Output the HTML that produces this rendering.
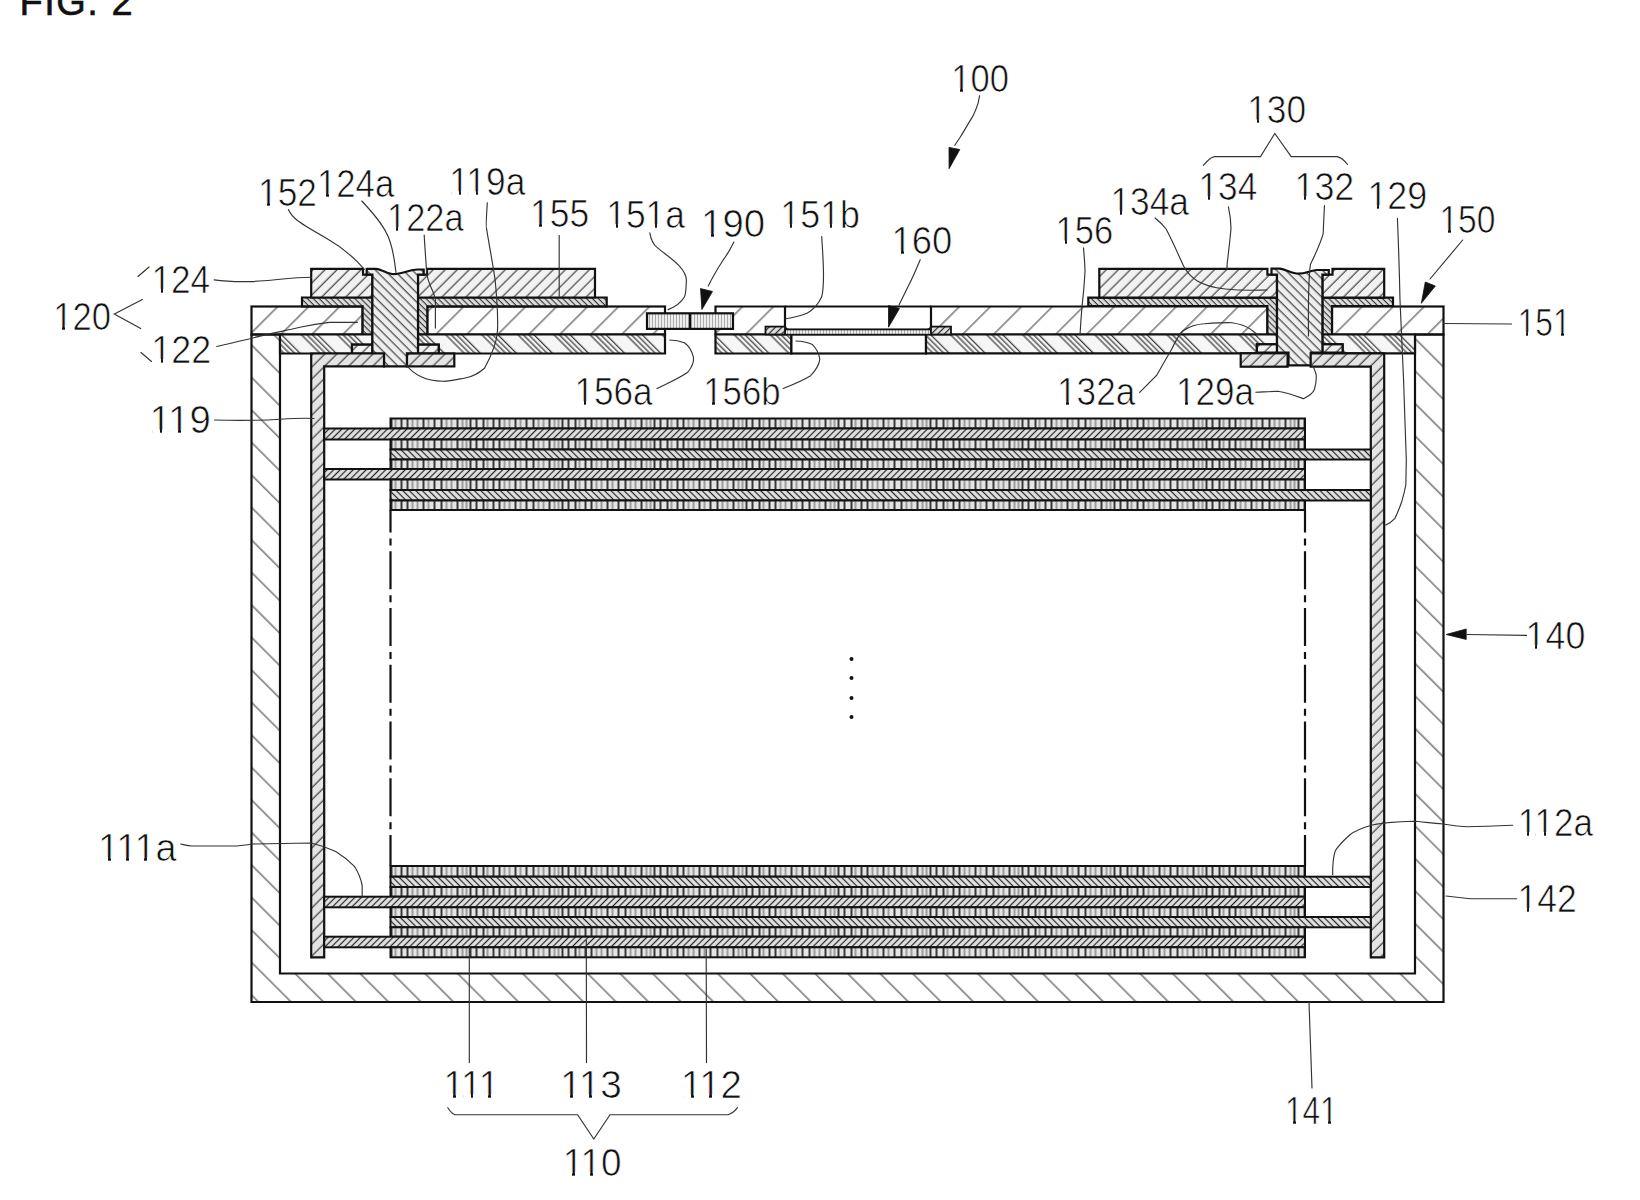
<!DOCTYPE html>
<html><head><meta charset="utf-8">
<style>
html,body{margin:0;padding:0;background:#fff;width:1640px;height:1200px;overflow:hidden}
svg{position:absolute;left:0;top:0}
text{font-family:"Liberation Sans",sans-serif;font-size:38px;fill:#111;stroke:#fff;stroke-width:0.7px}
</style></head><body>
<svg width="1640" height="1200" viewBox="0 0 1640 1200">
<defs>
<pattern id="pCase" patternUnits="userSpaceOnUse" width="22.98" height="22.98" patternTransform="rotate(-45)"><line x1="2.9" y1="0" x2="2.9" y2="22.98" stroke="#444" stroke-width="1.1"/></pattern>
<pattern id="pCap" patternUnits="userSpaceOnUse" width="21.91" height="21.91" patternTransform="rotate(45)"><line x1="18.8" y1="0" x2="18.8" y2="21.91" stroke="#444" stroke-width="1.1"/></pattern>
<pattern id="pTerm" patternUnits="userSpaceOnUse" width="8.5" height="8.5" patternTransform="rotate(45)"><rect width="8.5" height="8.5" fill="#f2f2f2"/><line x1="4" y1="0" x2="4" y2="8.5" stroke="#333" stroke-width="1.1"/></pattern>
<pattern id="pRivet" patternUnits="userSpaceOnUse" width="6.5" height="6.5" patternTransform="rotate(-45)"><rect width="6.5" height="6.5" fill="#eee"/><line x1="3" y1="0" x2="3" y2="6.5" stroke="#333" stroke-width="1.1"/></pattern>
<pattern id="pGask" patternUnits="userSpaceOnUse" width="4.2" height="4.2" patternTransform="rotate(-45)"><rect width="4.2" height="4.2" fill="#ddd"/><line x1="2" y1="0" x2="2" y2="4.2" stroke="#333" stroke-width="1.1"/></pattern>
<pattern id="pIns" patternUnits="userSpaceOnUse" width="25.5" height="25.5" patternTransform="rotate(-45)"><rect width="25.5" height="25.5" fill="#f6f6f6"/><g stroke="#222" stroke-width="1.1"><line x1="2" y1="0" x2="2" y2="25.5"/><line x1="5.8" y1="0" x2="5.8" y2="25.5"/><line x1="9.6" y1="0" x2="9.6" y2="25.5"/><line x1="13.4" y1="0" x2="13.4" y2="25.5"/></g></pattern>
<pattern id="pLead" patternUnits="userSpaceOnUse" width="8.5" height="8.5" patternTransform="rotate(45)"><rect width="8.5" height="8.5" fill="#e4e4e4"/><line x1="4" y1="0" x2="4" y2="8.5" stroke="#333" stroke-width="1.1"/></pattern>
<pattern id="pTab" patternUnits="userSpaceOnUse" width="4.6" height="4.6" patternTransform="rotate(45)"><rect width="4.6" height="4.6" fill="#e2e2e2"/><line x1="2.3" y1="0" x2="2.3" y2="4.6" stroke="#222" stroke-width="1.2"/></pattern>
<pattern id="pTabB" patternUnits="userSpaceOnUse" width="4.6" height="4.6" patternTransform="rotate(-45)"><rect width="4.6" height="4.6" fill="#e2e2e2"/><line x1="2.3" y1="0" x2="2.3" y2="4.6" stroke="#222" stroke-width="1.2"/></pattern>
<pattern id="pVert" patternUnits="userSpaceOnUse" width="92" height="10" x="390.5">
<rect width="92" height="10" fill="#e4e4e4"/>
<g stroke="#1a1a1a" stroke-width="1.7"><line x1="1" y1="0" x2="1" y2="10"/><line x1="11" y1="0" x2="11" y2="10"/><line x1="17" y1="0" x2="17" y2="10"/><line x1="33" y1="0" x2="33" y2="10"/><line x1="44" y1="0" x2="44" y2="10"/><line x1="51" y1="0" x2="51" y2="10"/><line x1="67" y1="0" x2="67" y2="10"/><line x1="80" y1="0" x2="80" y2="10"/><line x1="86" y1="0" x2="86" y2="10"/></g>
<g stroke="#555" stroke-width="1"><line x1="5" y1="0" x2="5" y2="10"/><line x1="22" y1="0" x2="22" y2="10"/><line x1="27" y1="0" x2="27" y2="10"/><line x1="38" y1="0" x2="38" y2="10"/><line x1="56" y1="0" x2="56" y2="10"/><line x1="61" y1="0" x2="61" y2="10"/><line x1="72" y1="0" x2="72" y2="10"/><line x1="76" y1="0" x2="76" y2="10"/></g>
</pattern>
<pattern id="pSc" patternUnits="userSpaceOnUse" width="3" height="3"><rect width="3" height="3" fill="#eee"/><line x1="1.5" y1="0" x2="1.5" y2="3" stroke="#999" stroke-width="0.8"/></pattern>
</defs>

<!-- FIG title -->
<text x="19.5" y="15.4" style="letter-spacing:1.5px;stroke:#111;stroke-width:0.6px">FIG. 2</text>

<g id="drawing" stroke="#111" stroke-width="2.2">
<!-- case 140 -->
<path d="M251.5,334.5 L251.5,1002 L1443.5,1002 L1443.5,334.5 L1415,334.5 L1415,973.5 L280,973.5 L280,334.5 Z" fill="url(#pCase)"/>
<!-- cap plate 151 pieces -->
<rect x="251.5" y="306.5" width="111.1" height="28" fill="url(#pCap)"/>
<rect x="427.3" y="306.5" width="237.7" height="28" fill="url(#pCap)"/>
<path d="M715.5,306.5 H785 V326 Q785,329.6 789,329.6 H927 Q931,329.6 931,326 V306.5 H1267.5 V334.5 H715.5 Z" fill="url(#pCap)"/>
<rect x="1332" y="306.5" width="111.5" height="28" fill="url(#pCap)"/>
<!-- gaskets 152 -->
<path d="M302,297.5 H372.4 V334.5 H362.6 V306.3 H302 Z" fill="url(#pGask)"/>
<path d="M418,297.5 H606.7 V306.3 H427.3 V334.5 H418 Z" fill="url(#pGask)"/>
<path d="M1088.3,297.7 H1277 V334.5 H1267.4 V306 H1088.3 Z" fill="url(#pGask)"/>
<path d="M1322.4,297.7 H1393 V306 H1332 V334.5 H1322.4 Z" fill="url(#pGask)"/>
<!-- terminal plates -->
<path d="M311.2,268.8 H363 V274.7 H372.4 V297.5 H311.2 Z" fill="url(#pTerm)"/>
<path d="M427,268.8 H595 V297.5 H418 V274.7 H427 Z" fill="url(#pTerm)"/>
<path d="M1099.3,268.8 H1267.4 V274.7 H1277 V297.7 H1099.3 Z" fill="url(#pTerm)"/>
<path d="M1332.5,268.8 H1384.2 V297.7 H1322.4 V274.7 H1332.5 Z" fill="url(#pTerm)"/>
<!-- insulators 156 -->
<path d="M280,334.5 H372.4 V344.7 H352 V353.5 H280 Z" fill="url(#pIns)"/>
<path d="M418,334.5 H665 V353.5 H438.7 V344.7 H418 Z" fill="url(#pIns)"/>
<path d="M715.5,334.5 H791.4 V353.5 H715.5 Z" fill="url(#pIns)"/>
<rect x="791.4" y="334.5" width="134.6" height="19" fill="#fff"/>
<path d="M926,334.5 H1277 V344.3 H1256.9 V353.3 H926 Z" fill="url(#pIns)"/>
<path d="M1322.4,334.5 H1415 V353.3 H1342.6 V344.3 H1322.4 Z" fill="url(#pIns)"/>
<!-- washers -->
<rect x="352" y="344.7" width="20.4" height="8.8" fill="url(#pTerm)"/>
<rect x="418" y="344.7" width="20.7" height="8.8" fill="url(#pTerm)"/>
<rect x="1256.9" y="344.3" width="20.1" height="8.3" fill="url(#pTerm)"/>
<rect x="1322.4" y="344.3" width="20.2" height="8.3" fill="url(#pTerm)"/>
<!-- rivets -->
<path d="M366.7,268.8 H376 C382,269.5 388,274.2 393.7,274.2 C402,274.2 410,269.5 417.5,269.5 H423.7 V274.7 H418 V353.5 H407 V366.4 H384 V353.5 H372.4 V274.7 H366.7 Z" fill="url(#pRivet)"/>
<path d="M1271.5,268.7 H1280 C1286,269.5 1292,273.7 1298.6,273.7 C1306,273.7 1311,270 1317,270 H1328.8 V274.7 H1322.4 V352.6 H1311 V365.4 H1288.5 V352.6 H1277 V274.7 H1271.5 Z" fill="url(#pRivet)"/>
<!-- lower flanges + lead tabs -->
<path d="M311.2,353.5 H384 V366.4 H324.2 V957.3 H311.2 Z" fill="url(#pLead)"/>
<rect x="407" y="353.5" width="47.3" height="12.9" fill="url(#pLead)"/>
<rect x="1240.7" y="353.3" width="46.9" height="13.4" fill="url(#pLead)"/>
<path d="M1310.7,353.3 H1384.2 V957.3 H1370.8 V366.7 H1310.7 Z" fill="url(#pLead)"/>
<line x1="785" y1="306.5" x2="931" y2="306.5"/>
<!-- vent plate 160 -->
<rect x="785" y="329.6" width="146" height="4.9" fill="url(#pSc)" stroke-width="1.4"/>
<rect x="765.5" y="326.6" width="19.5" height="7.9" fill="url(#pTab)" stroke-width="1.8"/>
<rect x="931" y="326.6" width="20" height="7.9" fill="url(#pTab)" stroke-width="1.8"/>
<!-- short circuit plate 190 -->
<rect x="647" y="313.3" width="86" height="15.6" fill="url(#pSc)"/>
<line x1="690" y1="313.3" x2="690" y2="328.9"/>
</g>
<g id="stacks" stroke="#111" stroke-width="2">
<rect x="390.5" y="418.5" width="914.5" height="10.0" fill="url(#pVert)"/>
<rect x="324.2" y="428.5" width="980.8" height="11.0" fill="url(#pTab)"/>
<rect x="390.5" y="439.5" width="914.5" height="10.0" fill="url(#pVert)"/>
<rect x="390.5" y="449.5" width="980.3" height="10.0" fill="url(#pTabB)"/>
<rect x="390.5" y="459.5" width="914.5" height="9.5" fill="url(#pVert)"/>
<rect x="324.2" y="469" width="980.8" height="10.5" fill="url(#pTab)"/>
<rect x="390.5" y="479.5" width="914.5" height="10.5" fill="url(#pVert)"/>
<rect x="390.5" y="490" width="980.3" height="10.5" fill="url(#pTabB)"/>
<rect x="390.5" y="500.5" width="914.5" height="9.5" fill="url(#pVert)"/>
<rect x="390.5" y="866" width="914.5" height="10.7" fill="url(#pVert)"/>
<rect x="390.5" y="876.7" width="980.3" height="10.3" fill="url(#pTabB)"/>
<rect x="390.5" y="887" width="914.5" height="9.7" fill="url(#pVert)"/>
<rect x="324.2" y="896.7" width="980.8" height="10.6" fill="url(#pTab)"/>
<rect x="390.5" y="907.3" width="914.5" height="9.7" fill="url(#pVert)"/>
<rect x="390.5" y="917" width="980.3" height="10.3" fill="url(#pTabB)"/>
<rect x="390.5" y="927.3" width="914.5" height="9.4" fill="url(#pVert)"/>
<rect x="324.2" y="936.7" width="980.8" height="10.6" fill="url(#pTab)"/>
<rect x="390.5" y="947.3" width="914.5" height="10.0" fill="url(#pVert)"/>
</g>
<g id="leaders" fill="none" stroke="#333" stroke-width="1.15" stroke-linecap="round">
<path d="M142.4,299.5 L114.3,314 L140.7,328.5"/>
<path d="M138,276.5 L149,267"/>
<path d="M141,352.5 L151.5,361.5"/>
<path d="M214.2,279.9 C225,281.5 240,281.8 250,281.6 C270,281 290,277.5 311.5,277.3"/>
<path d="M216.7,346.5 C230,343.5 240,341 250,338.8 C265,334 285,331 300,327.3 C310,325 318,323.5 329.4,322.4 L357.4,322.4"/>
<path d="M214.4,420 C240,420.8 260,420.5 280.3,419.3 C295,418.2 305,418 314,418.5"/>
<path d="M288.4,209.5 C292,218 298,222 326.8,238.5 C340,246 352,255 364.4,269.3"/>
<path d="M361.8,201 C375,215 384,228 386.6,233.4 C392,243 394,255 396,272.7"/>
<path d="M424.2,235.1 C425,250 426,262 426.7,272.7 C428,285 434,290 435.4,300 L435.4,328"/>
<path d="M487.3,202.7 C486.5,215 486,228 486.5,228.3 C490,250 494,270 495.3,281.7 C497,300 498,320 497.5,330.4 C497,338 496,342 494.2,346.6 C491,356 488,362 484.5,368.3 C478,374 472,377 465,378 C455,380 450,381.3 443.3,381.3 C435,381 428,380 421.7,377 C415,374 410,370 406.5,365"/>
<path d="M559.2,235.5 L559.2,296.8"/>
<path d="M649.8,232.8 C651,240 654,245 657,247.4 C665,254 674,260 679,265.7 C684,271 687,277 686.3,282.2 C686,290 686,293 684.5,296.8 C681,303 675,307 668,309.6"/>
<path d="M733.9,242 C730,250 727,255 723,260.2 C718,268 713,276 708.3,285.9"/>
<path d="M821.7,236.5 C822.5,250 823.5,262 823.5,274.9 C823.5,285 823,292 821.7,296.8 C818,305 813,310 807,313.3 C800,316 793,318 785,318.8"/>
<path d="M920.2,259.8 C916,270 912,279 907.6,287.6 L899,305"/>
<path d="M979.6,95.7 C979,99 978.5,101 978.2,102.8 C976,110 974.5,113 972.5,116.9 C968,124 964,131 960.5,136.8 L954.8,145.3"/>
<path d="M1083.5,247.9 C1084.5,260 1085,265 1085,271.7 C1084,290 1083,298 1082,306.6 C1081,318 1080.5,326 1080,335"/>
<path d="M1155.1,218 C1160,222 1163,225 1166.1,229 C1173,242 1178,254 1183.7,266.3 C1190,278 1200,286 1225,289 C1245,291 1258,290 1267,290"/>
<path d="M1228.4,206.8 C1230,214 1231,221 1231,228.5 C1230,240 1228.5,252 1227.1,264.4 L1227,269"/>
<path d="M1324.5,205.5 C1324,215 1323.5,225 1323.2,233.7 C1320,245 1315,255 1310.4,264.4 C1309,275 1308,290 1308.5,336"/>
<path d="M1203.4,165.4 C1207,161 1210,157.5 1214.4,156.6 L1260.5,156.6 L1274.8,133.5 L1291.2,156.6 L1337,156.6 C1341,157.5 1345,161 1347.5,164.5"/>
<path d="M1397.4,218.3 C1398.5,245 1399.5,275 1400,300.2 C1402,340 1404,380 1406.3,460 C1406,475 1406,480 1405.8,485 C1404.5,492 1403,497 1401.7,501.7 C1399.5,508 1397.5,513 1395,518.3 C1392,521.5 1389,523.5 1385.8,525"/>
<path d="M1462.7,240 L1430,279"/>
<path d="M1443.5,323.5 L1511.6,324"/>
<path d="M1467,634.5 L1526.6,635.4"/>
<path d="M1512.7,825.3 C1495,826 1480,826.5 1467.3,826.7 C1455,826 1450,825 1443.3,824 C1430,823 1420,821.5 1414,821.3 C1400,821.5 1395,822 1387.3,822.7 C1380,823.5 1375,824 1371.3,825.3 C1362,828 1355,831 1350,834.7 C1344,840 1339,845 1335.3,850.7 C1333,858 1332.5,866 1332.7,874.7"/>
<path d="M1516.7,898.7 L1470,898.7 L1446,896"/>
<path d="M180.7,844 C185,845 188,846 192,846 L233.7,846 C240,846 246,845 252.6,844 L311.2,843 C320,845 328,848 335.7,851.6 C343,856 349,861 354.7,866.7 C358,872 361,879 362.2,885.6 L362.2,897"/>
<path d="M657,388.5 C668,383 680,378 688,372 C692,367 694,362 693.5,357.4 C692,351 689,346 684.4,342.8 C680,341 675,340 669.8,340"/>
<path d="M783.2,388.5 C792,385 802,381 810.6,375.7 C815,371 819,365 819.8,359.3 C819,353 816,348 812.4,344.6 C807,342 801,341 796,341"/>
<path d="M1139.7,392.3 C1146,386 1152,380 1157,374.9 C1162,366 1167,357 1171.7,349.3 C1175,342 1178,336 1182.7,331 C1190,326 1197,324 1204.6,323.7 C1215,323 1225,322.5 1232,322.7 C1240,324 1246,326 1250.4,329.1 C1253,331 1255,333 1257.7,334.6"/>
<path d="M1255.9,392.3 C1263,392 1270,391.5 1277.8,391.3 C1288,393 1296,396 1303.4,398.7 C1309,396 1313,393 1314.4,389.5 C1316,384 1316.5,379 1316.2,374.9 C1315,370 1313,366 1310.7,363.9"/>
<path d="M469.3,947 L469.3,1062.6"/>
<path d="M586.3,940 L586.5,1062.6"/>
<path d="M706.2,949 L706.5,1062.6"/>
<path d="M1309,1002 L1312,1088"/>
<path d="M447.8,1107.7 C450,1111 452,1113.5 454.8,1114.7 L577.6,1114.7 L593.8,1139 L607.7,1118.2 L610,1114.7 L728.2,1114.7 C732,1113.5 735,1111 737.4,1107.7"/>
</g>
<g id="arrows" fill="#111" stroke="#111" stroke-width="0.8" stroke-linejoin="round">
<path d="M949,147.4 L959.8,149.5 L949.1,168.7 Z"/>
<path d="M700.5,288.6 L712.5,291.5 L701.9,309.6 Z"/>
<path d="M888.5,305.5 L899.5,308.5 L888.5,327.2 Z"/>
<path d="M1425.3,282 L1435.3,286 L1421.3,303.3 Z"/>
<path d="M1446.1,634.5 L1466.2,629 L1466.2,639.4 Z"/>
</g>
<g id="misc" fill="#111" stroke="none">
<circle cx="851.5" cy="659" r="2"/><circle cx="851.5" cy="678" r="2"/><circle cx="851.5" cy="698" r="2"/><circle cx="851.5" cy="717" r="2"/>
</g>
<g id="dashdot" stroke="#111" stroke-width="2.2" stroke-dasharray="38 6 7 5.75" stroke-dashoffset="15.5">
<line x1="390.5" y1="510" x2="390.5" y2="866"/>
<line x1="1305" y1="510" x2="1305" y2="866"/>
</g>
<g id="labels">
<text x="951.3" y="91.7" textLength="57.6" lengthAdjust="spacingAndGlyphs">100</text>
<text x="1247.2" y="123.3" textLength="58.8" lengthAdjust="spacingAndGlyphs">130</text>
<text x="258.1" y="206.2" textLength="58.9" lengthAdjust="spacingAndGlyphs">152</text>
<text x="317.0" y="197.0" textLength="77.2" lengthAdjust="spacingAndGlyphs">124a</text>
<text x="387.0" y="231.0" textLength="76.6" lengthAdjust="spacingAndGlyphs">122a</text>
<text x="449.3" y="195.1" textLength="76.0" lengthAdjust="spacingAndGlyphs">119a</text>
<text x="530.1" y="226.6" textLength="59.1" lengthAdjust="spacingAndGlyphs">155</text>
<text x="606.3" y="228.1" textLength="78.6" lengthAdjust="spacingAndGlyphs">151a</text>
<text x="701.1" y="236.9" textLength="63.9" lengthAdjust="spacingAndGlyphs">190</text>
<text x="780.3" y="228.1" textLength="79.7" lengthAdjust="spacingAndGlyphs">151b</text>
<text x="891.5" y="254.4" textLength="60.7" lengthAdjust="spacingAndGlyphs">160</text>
<text x="1055.5" y="244.3" textLength="57.6" lengthAdjust="spacingAndGlyphs">156</text>
<text x="1110.4" y="214.7" textLength="78.6" lengthAdjust="spacingAndGlyphs">134a</text>
<text x="1198.5" y="200.1" textLength="58.8" lengthAdjust="spacingAndGlyphs">134</text>
<text x="1294.5" y="200.1" textLength="59.8" lengthAdjust="spacingAndGlyphs">132</text>
<text x="1367.4" y="209.0" textLength="59.9" lengthAdjust="spacingAndGlyphs">129</text>
<text x="1439.4" y="233.4" textLength="56.0" lengthAdjust="spacingAndGlyphs">150</text>
<text x="151.4" y="292.8" textLength="58.8" lengthAdjust="spacingAndGlyphs">124</text>
<text x="53.2" y="329.5" textLength="57.8" lengthAdjust="spacingAndGlyphs">120</text>
<text x="151.3" y="362.8" textLength="59.9" lengthAdjust="spacingAndGlyphs">122</text>
<text x="1517.7" y="335.8" textLength="52.8" lengthAdjust="spacingAndGlyphs">151</text>
<text x="574.4" y="405.1" textLength="78.1" lengthAdjust="spacingAndGlyphs">156a</text>
<text x="703.3" y="405.1" textLength="77.3" lengthAdjust="spacingAndGlyphs">156b</text>
<text x="1057.1" y="405.1" textLength="78.1" lengthAdjust="spacingAndGlyphs">132a</text>
<text x="1176.0" y="405.1" textLength="78.1" lengthAdjust="spacingAndGlyphs">129a</text>
<text x="149.6" y="433.4" textLength="61.3" lengthAdjust="spacingAndGlyphs">119</text>
<text x="1525.6" y="649.0" textLength="59.7" lengthAdjust="spacingAndGlyphs">140</text>
<text x="1517.7" y="835.7" textLength="75.3" lengthAdjust="spacingAndGlyphs">112a</text>
<text x="98.0" y="861.0" textLength="78.6" lengthAdjust="spacingAndGlyphs">111a</text>
<text x="1517.6" y="911.7" textLength="59.3" lengthAdjust="spacingAndGlyphs">142</text>
<text x="443.4" y="1098.3" textLength="55.7" lengthAdjust="spacingAndGlyphs">111</text>
<text x="560.1" y="1098.3" textLength="61.8" lengthAdjust="spacingAndGlyphs">113</text>
<text x="680.7" y="1098.3" textLength="61.3" lengthAdjust="spacingAndGlyphs">112</text>
<text x="1284.9" y="1123.7" textLength="52.8" lengthAdjust="spacingAndGlyphs">141</text>
<text x="562.8" y="1176.0" textLength="58.8" lengthAdjust="spacingAndGlyphs">110</text>
</g>
<g id="footerase" fill="#fff" stroke="none">
<rect x="952.35" y="87.86" width="7.65" height="4.64"/>
<rect x="963.00" y="87.86" width="7.18" height="4.64"/>
<rect x="1249.22" y="119.46" width="7.78" height="4.64"/>
<rect x="1259.00" y="119.46" width="7.30" height="4.64"/>
<rect x="259.21" y="202.36" width="7.79" height="4.64"/>
<rect x="270.00" y="202.36" width="7.31" height="4.64"/>
<rect x="318.32" y="193.16" width="7.68" height="4.64"/>
<rect x="329.00" y="193.16" width="7.21" height="4.64"/>
<rect x="388.36" y="227.16" width="7.64" height="4.64"/>
<rect x="398.00" y="227.16" width="7.17" height="4.64"/>
<rect x="452.03" y="191.26" width="6.97" height="4.64"/>
<rect x="461.00" y="191.26" width="6.53" height="4.64"/>
<rect x="468.20" y="191.26" width="7.80" height="4.64"/>
<rect x="478.00" y="191.26" width="7.32" height="4.64"/>
<rect x="531.19" y="222.76" width="7.81" height="4.64"/>
<rect x="542.00" y="222.76" width="7.33" height="4.64"/>
<rect x="608.21" y="224.26" width="7.79" height="4.64"/>
<rect x="618.00" y="224.26" width="7.32" height="4.64"/>
<rect x="647.21" y="224.26" width="7.79" height="4.64"/>
<rect x="657.00" y="224.26" width="7.32" height="4.64"/>
<rect x="702.68" y="233.06" width="8.32" height="4.64"/>
<rect x="714.00" y="233.06" width="7.82" height="4.64"/>
<rect x="782.12" y="224.26" width="7.88" height="4.64"/>
<rect x="792.00" y="224.26" width="7.40" height="4.64"/>
<rect x="822.12" y="224.26" width="7.88" height="4.64"/>
<rect x="832.00" y="224.26" width="7.40" height="4.64"/>
<rect x="893.02" y="250.56" width="7.98" height="4.64"/>
<rect x="904.00" y="250.56" width="7.49" height="4.64"/>
<rect x="1057.35" y="240.46" width="7.65" height="4.64"/>
<rect x="1067.00" y="240.46" width="7.18" height="4.64"/>
<rect x="1112.21" y="210.86" width="7.79" height="4.64"/>
<rect x="1122.00" y="210.86" width="7.32" height="4.64"/>
<rect x="1200.22" y="196.26" width="7.78" height="4.64"/>
<rect x="1210.00" y="196.26" width="7.30" height="4.64"/>
<rect x="1296.12" y="196.26" width="7.88" height="4.64"/>
<rect x="1306.00" y="196.26" width="7.40" height="4.64"/>
<rect x="1369.11" y="205.16" width="7.89" height="4.64"/>
<rect x="1379.00" y="205.16" width="7.41" height="4.64"/>
<rect x="1440.52" y="229.56" width="7.48" height="4.64"/>
<rect x="1451.00" y="229.56" width="7.02" height="4.64"/>
<rect x="153.22" y="288.96" width="7.78" height="4.64"/>
<rect x="163.00" y="288.96" width="7.30" height="4.64"/>
<rect x="54.33" y="325.66" width="7.67" height="4.64"/>
<rect x="65.00" y="325.66" width="7.20" height="4.64"/>
<rect x="153.11" y="358.96" width="7.89" height="4.64"/>
<rect x="163.00" y="358.96" width="7.41" height="4.64"/>
<rect x="1518.85" y="331.96" width="7.15" height="4.64"/>
<rect x="1528.00" y="331.96" width="6.70" height="4.64"/>
<rect x="1553.85" y="331.96" width="7.15" height="4.64"/>
<rect x="1564.00" y="331.96" width="6.70" height="4.64"/>
<rect x="576.24" y="401.26" width="7.76" height="4.64"/>
<rect x="586.00" y="401.26" width="7.28" height="4.64"/>
<rect x="704.31" y="401.26" width="7.69" height="4.64"/>
<rect x="715.00" y="401.26" width="7.22" height="4.64"/>
<rect x="1058.24" y="401.26" width="7.76" height="4.64"/>
<rect x="1069.00" y="401.26" width="7.28" height="4.64"/>
<rect x="1177.24" y="401.26" width="7.76" height="4.64"/>
<rect x="1188.00" y="401.26" width="7.28" height="4.64"/>
<rect x="152.56" y="429.56" width="7.44" height="4.64"/>
<rect x="162.00" y="429.56" width="6.98" height="4.64"/>
<rect x="169.66" y="429.56" width="8.34" height="4.64"/>
<rect x="181.00" y="429.56" width="7.84" height="4.64"/>
<rect x="1527.13" y="645.16" width="7.87" height="4.64"/>
<rect x="1537.00" y="645.16" width="7.39" height="4.64"/>
<rect x="1520.08" y="831.86" width="6.92" height="4.64"/>
<rect x="1529.00" y="831.86" width="6.49" height="4.64"/>
<rect x="1536.26" y="831.86" width="7.74" height="4.64"/>
<rect x="1546.00" y="831.86" width="7.27" height="4.64"/>
<rect x="100.65" y="857.16" width="7.35" height="4.64"/>
<rect x="111.00" y="857.16" width="6.90" height="4.64"/>
<rect x="118.65" y="857.16" width="7.35" height="4.64"/>
<rect x="129.00" y="857.16" width="6.90" height="4.64"/>
<rect x="135.76" y="857.16" width="8.24" height="4.64"/>
<rect x="147.00" y="857.16" width="7.74" height="4.64"/>
<rect x="1519.17" y="907.86" width="7.83" height="4.64"/>
<rect x="1529.00" y="907.86" width="7.35" height="4.64"/>
<rect x="445.83" y="1094.46" width="7.17" height="4.64"/>
<rect x="456.00" y="1094.46" width="6.72" height="4.64"/>
<rect x="463.83" y="1094.46" width="7.17" height="4.64"/>
<rect x="473.00" y="1094.46" width="6.72" height="4.64"/>
<rect x="479.97" y="1094.46" width="8.03" height="4.64"/>
<rect x="491.00" y="1094.46" width="7.54" height="4.64"/>
<rect x="562.51" y="1094.46" width="7.49" height="4.64"/>
<rect x="573.00" y="1094.46" width="7.03" height="4.64"/>
<rect x="580.60" y="1094.46" width="8.40" height="4.64"/>
<rect x="592.00" y="1094.46" width="7.89" height="4.64"/>
<rect x="683.56" y="1094.46" width="7.44" height="4.64"/>
<rect x="694.00" y="1094.46" width="6.98" height="4.64"/>
<rect x="700.66" y="1094.46" width="8.34" height="4.64"/>
<rect x="712.00" y="1094.46" width="7.84" height="4.64"/>
<rect x="1285.85" y="1119.86" width="7.15" height="4.64"/>
<rect x="1296.00" y="1119.86" width="6.70" height="4.64"/>
<rect x="1320.85" y="1119.86" width="7.15" height="4.64"/>
<rect x="1331.00" y="1119.86" width="6.70" height="4.64"/>
<rect x="564.79" y="1172.16" width="7.21" height="4.64"/>
<rect x="575.00" y="1172.16" width="6.76" height="4.64"/>
<rect x="581.93" y="1172.16" width="8.07" height="4.64"/>
<rect x="593.00" y="1172.16" width="7.58" height="4.64"/>
</g>
</svg>
</body></html>
